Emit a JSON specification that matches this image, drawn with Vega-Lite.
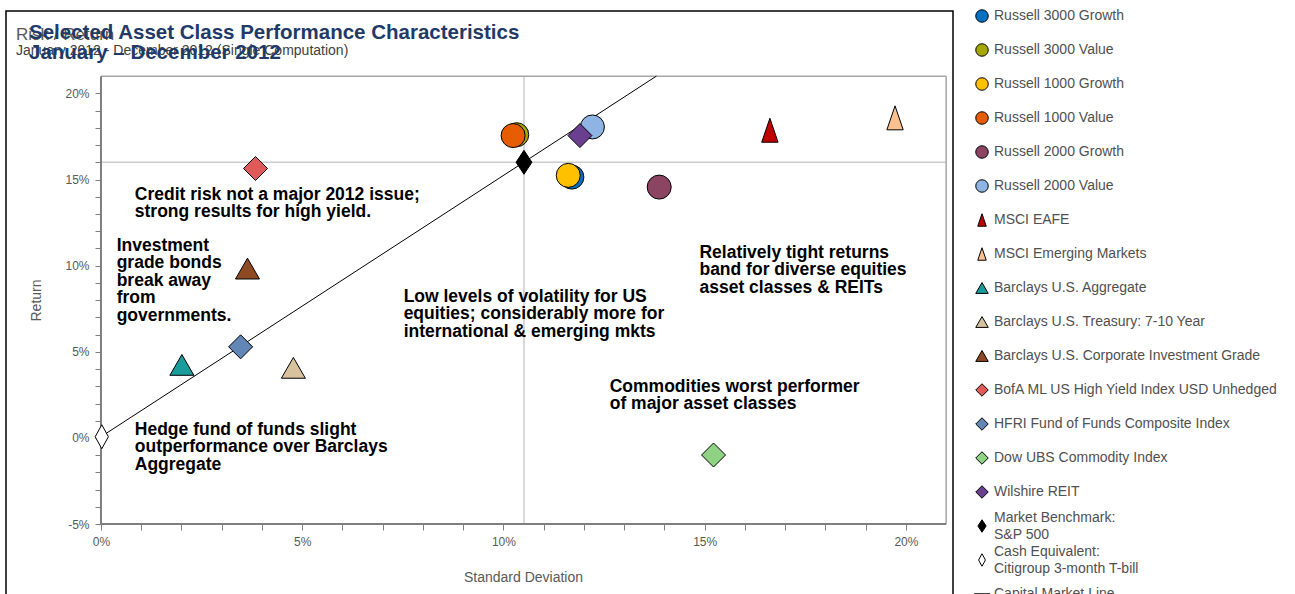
{
  "$schema": "https://vega.github.io/schema/vega-lite/v6.json",
  "padding": {"left": 5, "top": 7, "right": 0, "bottom": 0},
  "background": "white",
  "bounds": "flush",
  "spacing": 29,
  "config": {"font": "Liberation Sans", "view": {"stroke": null}},
  "title": {
    "text": ["Selected Asset Class Performance Characteristics", "January – December 2012"],
    "anchor": "start", "frame": "group", "orient": "top",
    "offset": -55.5, "dx": 23,
    "fontSize": 20.5, "fontWeight": "bold", "color": "#1F3A68", "lineHeight": 20
  },
  "datasets": {
    "points": [
      {"name": "Barclays U.S. Aggregate", "sd": 2.01, "ret": 4.24},
      {"name": "Barclays U.S. Treasury: 7-10 Year", "sd": 4.78, "ret": 4.07},
      {"name": "Barclays U.S. Corporate Investment Grade", "sd": 3.64, "ret": 9.83},
      {"name": "BofA ML US High Yield Index USD Unhedged", "sd": 3.84, "ret": 15.64},
      {"name": "HFRI Fund of Funds Composite Index", "sd": 3.47, "ret": 5.29},
      {"name": "Dow UBS Commodity Index", "sd": 15.22, "ret": -0.99},
      {"name": "MSCI EAFE", "sd": 16.62, "ret": 17.86},
      {"name": "MSCI Emerging Markets", "sd": 19.73, "ret": 18.58},
      {"name": "Russell 2000 Growth", "sd": 13.87, "ret": 14.56},
      {"name": "Russell 3000 Growth", "sd": 11.7, "ret": 15.14},
      {"name": "Russell 1000 Growth", "sd": 11.61, "ret": 15.24},
      {"name": "Russell 3000 Value", "sd": 10.33, "ret": 17.6},
      {"name": "Russell 1000 Value", "sd": 10.24, "ret": 17.55},
      {"name": "Russell 2000 Value", "sd": 12.21, "ret": 18.05},
      {"name": "Wilshire REIT", "sd": 11.9, "ret": 17.55},
      {"name": "S&P 500", "sd": 10.51, "ret": 16.0},
      {"name": "Citigroup 3-month T-bill", "sd": 0.02, "ret": 0.07}
    ],
    "cml": [
      {"sd": 0.0, "ret": 0.07},
      {"sd": 13.8, "ret": 21.0}
    ],
    "notes": [
      {"note": "Credit risk not a major 2012 issue;\nstrong results for high yield.", "sd": 0.84, "ret": 14.13},
      {"note": "Investment\ngrade bonds\nbreak away\nfrom\ngovernments.", "sd": 0.39, "ret": 11.16},
      {"note": "Low levels of volatility  for US\nequities; considerably more for\ninternational & emerging mkts", "sd": 7.52, "ret": 8.2},
      {"note": "Relatively tight returns\nband for diverse  equities\nasset classes & REITs", "sd": 14.87, "ret": 10.76},
      {"note": "Commodities worst performer\nof major asset classes", "sd": 12.64, "ret": 2.97},
      {"note": "Hedge fund of funds slight\noutperformance over Barclays\nAggregate", "sd": 0.84, "ret": 0.47}
    ],
    "legend": [
      {"name": "Russell 3000 Growth", "label": "Russell 3000 Growth"},
      {"name": "Russell 3000 Value", "label": "Russell 3000 Value"},
      {"name": "Russell 1000 Growth", "label": "Russell 1000 Growth"},
      {"name": "Russell 1000 Value", "label": "Russell 1000 Value"},
      {"name": "Russell 2000 Growth", "label": "Russell 2000 Growth"},
      {"name": "Russell 2000 Value", "label": "Russell 2000 Value"},
      {"name": "MSCI EAFE", "label": "MSCI EAFE"},
      {"name": "MSCI Emerging Markets", "label": "MSCI Emerging Markets"},
      {"name": "Barclays U.S. Aggregate", "label": "Barclays U.S. Aggregate"},
      {"name": "Barclays U.S. Treasury: 7-10 Year", "label": "Barclays U.S. Treasury: 7-10 Year"},
      {"name": "Barclays U.S. Corporate Investment Grade", "label": "Barclays U.S. Corporate Investment Grade"},
      {"name": "BofA ML US High Yield Index USD Unhedged", "label": "BofA ML US High Yield Index USD Unhedged"},
      {"name": "HFRI Fund of Funds Composite Index", "label": "HFRI Fund of Funds Composite Index"},
      {"name": "Dow UBS Commodity Index", "label": "Dow UBS Commodity Index"},
      {"name": "Wilshire REIT", "label": "Wilshire REIT"},
      {"name": "S&P 500", "label": "Market Benchmark:\nS&P 500"},
      {"name": "Citigroup 3-month T-bill", "label": "Cash Equivalent:\nCitigroup 3-month T-bill"},
      {"name": "Capital Market Line", "label": "Capital Market Line"}
    ]
  },
  "resolve": {"scale": {"x": "independent", "y": "independent", "color": "independent", "shape": "independent", "size": "independent"}},
  "hconcat": [
    {
      "width": 947,
      "height": 591,
      "view": {"stroke": "#000000", "strokeWidth": 1.5},
      "title": {
        "text": "Risk / Return",
        "subtitle": "January 2012 - December 2012 (Single Computation)",
        "anchor": "start", "frame": "group", "orient": "top",
        "offset": -47.5, "dx": 10,
        "fontSize": 17, "fontWeight": "normal", "color": "#595959",
        "subtitleFontSize": 14, "subtitleColor": "#404040", "subtitlePadding": 0
      },
      "encoding": {
        "x": {
          "field": "sd", "type": "quantitative",
          "scale": {"domain": [-2.36, 21.17], "nice": false, "zero": false},
          "axis": {
            "title": "Standard Deviation",
            "values": [0,1,2,3,4,5,6,7,8,9,10,11,12,13,14,15,16,17,18,19,20],
            "labelExpr": "datum.value % 5 === 0 ? datum.value + '%' : ''",
            "offset": -78, "domain": false, "grid": false,
            "tickSize": 6, "tickColor": "#7f7f7f", "tickWidth": 1,
            "labelFontSize": 12, "labelColor": "#595959", "labelPadding": 6,
            "labelOverlap": false, "labelBound": false, "labelFlush": false,
            "titleFontSize": 14, "titleFontWeight": "normal", "titleColor": "#595959",
            "titleX": 517, "titleY": 53, "titleBaseline": "middle"
          }
        },
        "y": {
          "field": "ret", "type": "quantitative",
          "scale": {"domain": [-9.52, 24.78], "nice": false, "zero": false},
          "axis": {
            "title": "Return",
            "values": [-5,-4,-3,-2,-1,0,1,2,3,4,5,6,7,8,9,10,11,12,13,14,15,16,17,18,19,20],
            "labelExpr": "datum.value % 5 === 0 ? datum.value + '%' : ''",
            "offset": -95, "domain": false, "grid": false,
            "tickSize": 6, "tickColor": "#7f7f7f", "tickWidth": 1,
            "labelFontSize": 12, "labelColor": "#595959", "labelPadding": 6,
            "labelOverlap": false, "labelBound": false, "labelFlush": false,
            "titleFontSize": 14, "titleFontWeight": "normal", "titleColor": "#595959",
            "titleX": -65, "titleY": 289, "titleBaseline": "middle"
          }
        }
      },
      "layer": [
        {
          "data": {"name": "points"},
          "transform": [{"filter": "datum.name === 'S&P 500'"}],
          "mark": {"type": "rule", "color": "#cccccc", "strokeWidth": 1.5},
          "encoding": {"y": {"datum": -5}, "y2": {"datum": 21}}
        },
        {
          "data": {"name": "points"},
          "transform": [{"filter": "datum.name === 'S&P 500'"}],
          "mark": {"type": "rule", "color": "#cccccc", "strokeWidth": 1.5},
          "encoding": {"x": {"datum": 0}, "x2": {"datum": 21}}
        },
        {
          "data": {"name": "points"},
          "transform": [{"filter": "datum.name === 'S&P 500'"}],
          "mark": {"type": "rule", "color": "#a6a6a6", "strokeWidth": 1.5},
          "encoding": {"x": {"datum": 0}, "x2": {"datum": 21}, "y": {"datum": 21}}
        },
        {
          "data": {"name": "points"},
          "transform": [{"filter": "datum.name === 'S&P 500'"}],
          "mark": {"type": "rule", "color": "#a6a6a6", "strokeWidth": 1.5},
          "encoding": {"x": {"datum": 21}, "y": {"datum": -5}, "y2": {"datum": 21}}
        },
        {
          "data": {"name": "points"},
          "transform": [{"filter": "datum.name === 'S&P 500'"}],
          "mark": {"type": "rule", "color": "#7f7f7f", "strokeWidth": 2},
          "encoding": {"x": {"datum": 0}, "x2": {"datum": 21}, "y": {"datum": -5}}
        },
        {
          "data": {"name": "points"},
          "transform": [{"filter": "datum.name === 'S&P 500'"}],
          "mark": {"type": "rule", "color": "#7f7f7f", "strokeWidth": 2},
          "encoding": {"x": {"datum": 0}, "y": {"datum": -5}, "y2": {"datum": 21}}
        },
        {
          "data": {"name": "cml"},
          "mark": {"type": "line", "color": "#000000", "strokeWidth": 1},
          "encoding": {}
        },
        {
          "data": {"name": "points"},
          "mark": {"type": "point", "filled": true, "stroke": "#000000", "strokeWidth": 1, "opacity": 1},
          "encoding": {
            "color": {
              "field": "name", "type": "nominal", "legend": null,
              "scale": {
                "domain": ["Russell 3000 Growth","Russell 3000 Value","Russell 1000 Growth","Russell 1000 Value","Russell 2000 Growth","Russell 2000 Value","MSCI EAFE","MSCI Emerging Markets","Barclays U.S. Aggregate","Barclays U.S. Treasury: 7-10 Year","Barclays U.S. Corporate Investment Grade","BofA ML US High Yield Index USD Unhedged","HFRI Fund of Funds Composite Index","Dow UBS Commodity Index","Wilshire REIT","S&P 500","Citigroup 3-month T-bill"],
                "range": ["#0070C0","#A6A600","#FFC000","#E65C00","#8B4563","#8DB4E2","#C00000","#FAC090","#1A9C9C","#D8C29E","#8E4A22","#E05A5A","#6286B5","#90D283","#6B3F8F","#000000","#FFFFFF"]
              }
            },
            "shape": {
              "field": "name", "type": "nominal", "legend": null,
              "scale": {
                "domain": ["Russell 3000 Growth","Russell 3000 Value","Russell 1000 Growth","Russell 1000 Value","Russell 2000 Growth","Russell 2000 Value","MSCI EAFE","MSCI Emerging Markets","Barclays U.S. Aggregate","Barclays U.S. Treasury: 7-10 Year","Barclays U.S. Corporate Investment Grade","BofA ML US High Yield Index USD Unhedged","HFRI Fund of Funds Composite Index","Dow UBS Commodity Index","Wilshire REIT","S&P 500","Citigroup 3-month T-bill"],
                "range": ["circle","circle","circle","circle","circle","circle","M0,-1L0.68,1L-0.68,1Z","M0,-1L0.68,1L-0.68,1Z","triangle-up","triangle-up","triangle-up","diamond","diamond","diamond","diamond","M0,-1L0.66,0L0,1L-0.66,0Z","M0,-1L0.55,0L0,1L-0.55,0Z"]
              }
            },
            "size": {
              "field": "name", "type": "nominal", "legend": null,
              "scale": {
                "domain": ["Russell 3000 Growth","Russell 3000 Value","Russell 1000 Growth","Russell 1000 Value","Russell 2000 Growth","Russell 2000 Value","MSCI EAFE","MSCI Emerging Markets","Barclays U.S. Aggregate","Barclays U.S. Treasury: 7-10 Year","Barclays U.S. Corporate Investment Grade","BofA ML US High Yield Index USD Unhedged","HFRI Fund of Funds Composite Index","Dow UBS Commodity Index","Wilshire REIT","S&P 500","Citigroup 3-month T-bill"],
                "range": [576,576,576,576,576,576,529,529,529,529,529,529,529,529,529,484,441]
              }
            }
          }
        },
        {
          "data": {"name": "notes"},
          "mark": {"type": "text", "align": "left", "baseline": "middle", "fontSize": 17.5, "fontWeight": "bold", "color": "#000000", "lineHeight": 17.5, "lineBreak": "\n"},
          "encoding": {"text": {"field": "note"}}
        }
      ]
    },
    {
      "width": 300,
      "height": 588,
      "data": {"name": "legend"},
      "encoding": {
        "x": {"datum": 0, "type": "quantitative", "scale": {"domain": [0, 1]}, "axis": null},
        "y": {
          "field": "name", "type": "nominal", "axis": null,
          "scale": {
            "type": "point", "padding": 0.147,
            "domain": ["Russell 3000 Growth","Russell 3000 Value","Russell 1000 Growth","Russell 1000 Value","Russell 2000 Growth","Russell 2000 Value","MSCI EAFE","MSCI Emerging Markets","Barclays U.S. Aggregate","Barclays U.S. Treasury: 7-10 Year","Barclays U.S. Corporate Investment Grade","BofA ML US High Yield Index USD Unhedged","HFRI Fund of Funds Composite Index","Dow UBS Commodity Index","Wilshire REIT","S&P 500","Citigroup 3-month T-bill","Capital Market Line"]
          }
        }
      },
      "layer": [
        {
          "transform": [{"filter": "datum.name !== 'Capital Market Line'"}],
          "mark": {"type": "point", "filled": true, "stroke": "#000000", "strokeWidth": 1, "opacity": 1},
          "encoding": {
            "color": {
              "field": "name", "type": "nominal", "legend": null,
              "scale": {
                "domain": ["Russell 3000 Growth","Russell 3000 Value","Russell 1000 Growth","Russell 1000 Value","Russell 2000 Growth","Russell 2000 Value","MSCI EAFE","MSCI Emerging Markets","Barclays U.S. Aggregate","Barclays U.S. Treasury: 7-10 Year","Barclays U.S. Corporate Investment Grade","BofA ML US High Yield Index USD Unhedged","HFRI Fund of Funds Composite Index","Dow UBS Commodity Index","Wilshire REIT","S&P 500","Citigroup 3-month T-bill"],
                "range": ["#0070C0","#A6A600","#FFC000","#E65C00","#8B4563","#8DB4E2","#C00000","#FAC090","#1A9C9C","#D8C29E","#8E4A22","#E05A5A","#6286B5","#90D283","#6B3F8F","#000000","#FFFFFF"]
              }
            },
            "shape": {
              "field": "name", "type": "nominal", "legend": null,
              "scale": {
                "domain": ["Russell 3000 Growth","Russell 3000 Value","Russell 1000 Growth","Russell 1000 Value","Russell 2000 Growth","Russell 2000 Value","MSCI EAFE","MSCI Emerging Markets","Barclays U.S. Aggregate","Barclays U.S. Treasury: 7-10 Year","Barclays U.S. Corporate Investment Grade","BofA ML US High Yield Index USD Unhedged","HFRI Fund of Funds Composite Index","Dow UBS Commodity Index","Wilshire REIT","S&P 500","Citigroup 3-month T-bill"],
                "range": ["circle","circle","circle","circle","circle","circle","M0,-1L0.68,1L-0.68,1Z","M0,-1L0.68,1L-0.68,1Z","triangle-up","triangle-up","triangle-up","diamond","diamond","diamond","diamond","M0,-1L0.66,0L0,1L-0.66,0Z","M0,-1L0.55,0L0,1L-0.55,0Z"]
              }
            },
            "size": {
              "field": "name", "type": "nominal", "legend": null,
              "scale": {
                "domain": ["Russell 3000 Growth","Russell 3000 Value","Russell 1000 Growth","Russell 1000 Value","Russell 2000 Growth","Russell 2000 Value","MSCI EAFE","MSCI Emerging Markets","Barclays U.S. Aggregate","Barclays U.S. Treasury: 7-10 Year","Barclays U.S. Corporate Investment Grade","BofA ML US High Yield Index USD Unhedged","HFRI Fund of Funds Composite Index","Dow UBS Commodity Index","Wilshire REIT","S&P 500","Citigroup 3-month T-bill"],
                "range": [156,156,156,156,156,156,169,169,196,196,196,169,169,169,169,169,169]
              }
            }
          }
        },
        {
          "transform": [{"filter": "datum.name === 'Capital Market Line'"}],
          "mark": {"type": "point", "shape": "stroke", "size": 256, "filled": false, "color": "#404040", "strokeWidth": 2, "opacity": 1},
          "encoding": {}
        },
        {
          "transform": [{"filter": "datum.name !== 'S&P 500' && datum.name !== 'Citigroup 3-month T-bill'"}],
          "mark": {"type": "text", "align": "left", "baseline": "middle", "dx": 12, "fontSize": 14, "color": "#505050"},
          "encoding": {"text": {"field": "label"}}
        },
        {
          "transform": [{"filter": "datum.name === 'S&P 500' || datum.name === 'Citigroup 3-month T-bill'"}],
          "mark": {"type": "text", "align": "left", "baseline": "middle", "dx": 12, "dy": -8.5, "fontSize": 14, "color": "#505050", "lineHeight": 17, "lineBreak": "\n"},
          "encoding": {"text": {"field": "label"}}
        }
      ]
    }
  ]
}
